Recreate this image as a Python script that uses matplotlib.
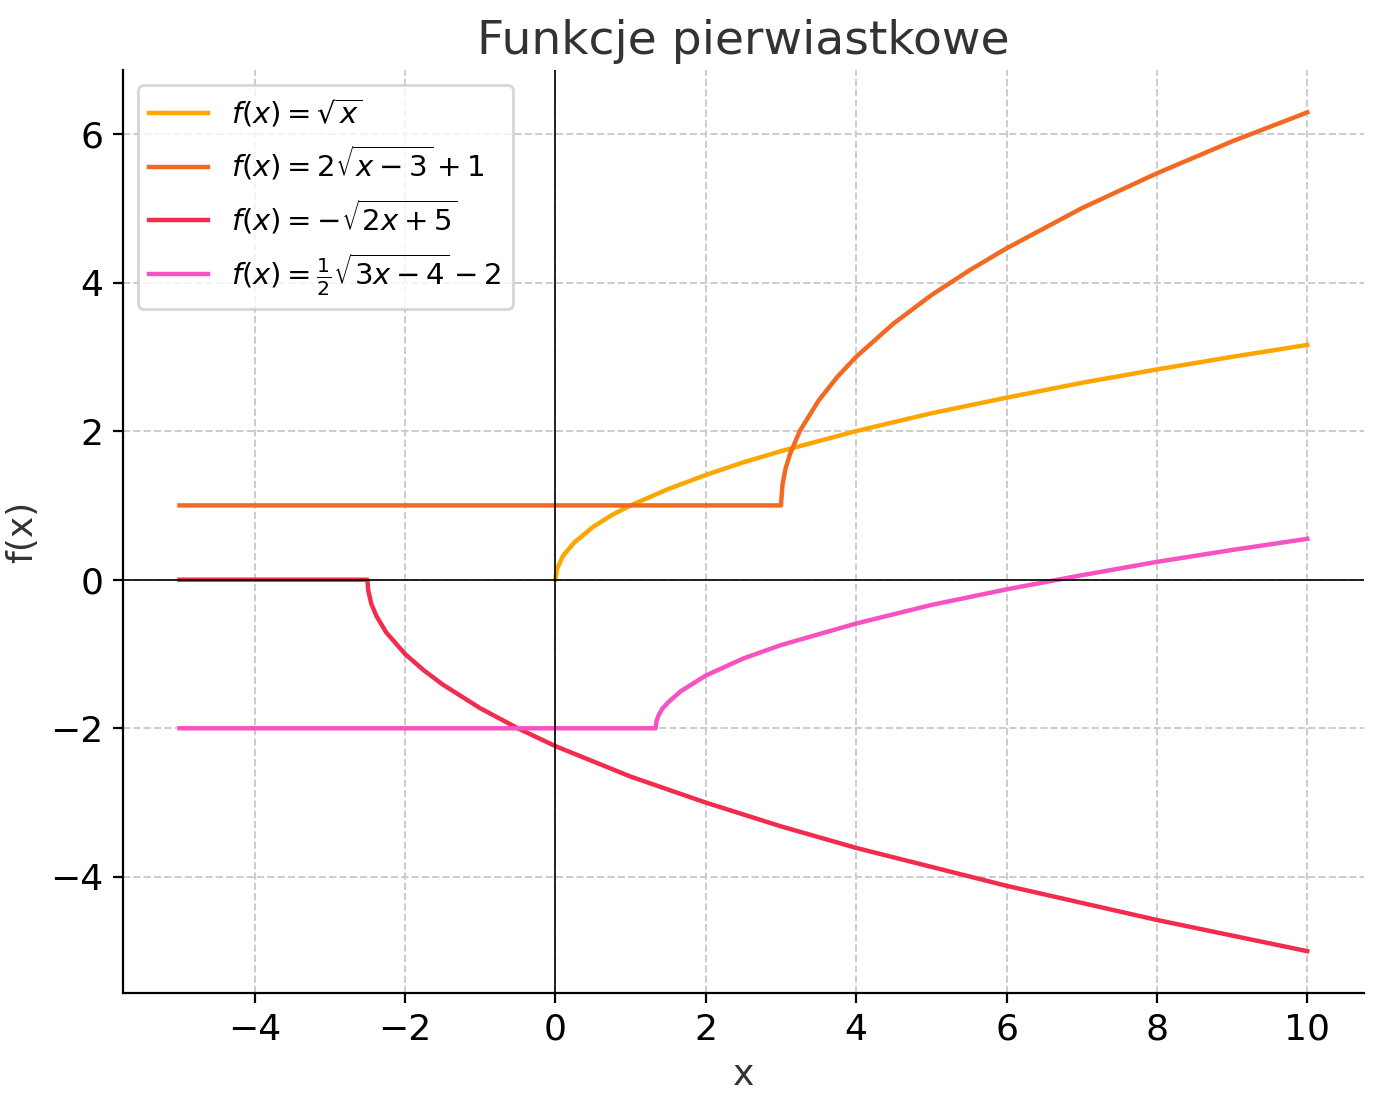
import matplotlib.pyplot as plt

# values
x_sqrt = [0, 0.02, 0.1, 0.25, 0.5, 0.75, 1, 1.5, 2, 2.5, 3, 4, 5, 6, 7, 8, 9, 10]
y_sqrt = [0, 0.14, 0.32, 0.5, 0.71, 0.87, 1, 1.22, 1.41, 1.58, 1.73, 2, 2.24, 2.45, 2.65, 2.83, 3, 3.16]

x_f2 = [-5, 3, 3.02, 3.06, 3.12, 3.25, 3.5, 3.75, 4, 4.5, 5, 5.5, 6, 7, 8, 9, 10]
y_f2 = [1, 1, 1.28, 1.49, 1.69, 2, 2.41, 2.73, 3, 3.45, 3.83, 4.16, 4.46, 5, 5.47, 5.9, 6.29]

x_f3 = [-5, -2.5, -2.49, -2.45, -2.38, -2.25, -2, -1.75, -1.5, -1, -0.5, 0, 1, 2, 3, 4, 6, 8, 10]
y_f3 = [0, 0, -0.14, -0.32, -0.49, -0.71, -1, -1.22, -1.41, -1.73, -2, -2.24, -2.65, -3, -3.32, -3.61, -4.12, -4.58, -5]

x_f4 = [-5, 1.333, 1.343, 1.37, 1.42, 1.5, 1.67, 2, 2.5, 3, 4, 5, 6, 7, 8, 9, 10]
y_f4 = [-2, -2, -1.91, -1.83, -1.74, -1.65, -1.5, -1.29, -1.06, -0.88, -0.59, -0.34, -0.13, 0.06, 0.24, 0.40, 0.55]

labels = [r'$f(x) = \sqrt{x}$',
          r'$f(x) = 2\sqrt{x-3}+1$',
          r'$f(x) = -\sqrt{2x+5}$',
          r'$f(x) = \frac{1}{2}\sqrt{3x-4}-2$']
colors = ['#FFA500', '#F26922', '#F22C4E', '#F752C2']

fig, ax = plt.subplots(figsize=(6.915, 5.505), dpi=200)

for xs, ys, lab, c in zip([x_sqrt, x_f2, x_f3, x_f4], [y_sqrt, y_f2, y_f3, y_f4], labels, colors):
    ax.plot(xs, ys, color=c, lw=1.6, label=lab)

ax.axhline(0, color='black', lw=0.6)
ax.axvline(0, color='black', lw=0.6)

ax.set_title('Funkcje pierwiastkowe', fontsize=17, color='#333333')
ax.set_xlabel('x', fontsize=13, color='#333333')
ax.set_ylabel('f(x)', fontsize=13, color='#333333')
ax.tick_params(labelsize=13)
ax.set_xticks([-4, -2, 0, 2, 4, 6, 8, 10])
ax.set_yticks([-4, -2, 0, 2, 4, 6])
ax.grid(True, linestyle='--', color='#cccccc', lw=0.7)
ax.spines['top'].set_visible(False)
ax.spines['right'].set_visible(False)
ax.legend(loc='upper left', fontsize=10.5)

fig.subplots_adjust(left=0.089, right=0.986, top=0.936, bottom=0.098)
plt.savefig('out.png')
